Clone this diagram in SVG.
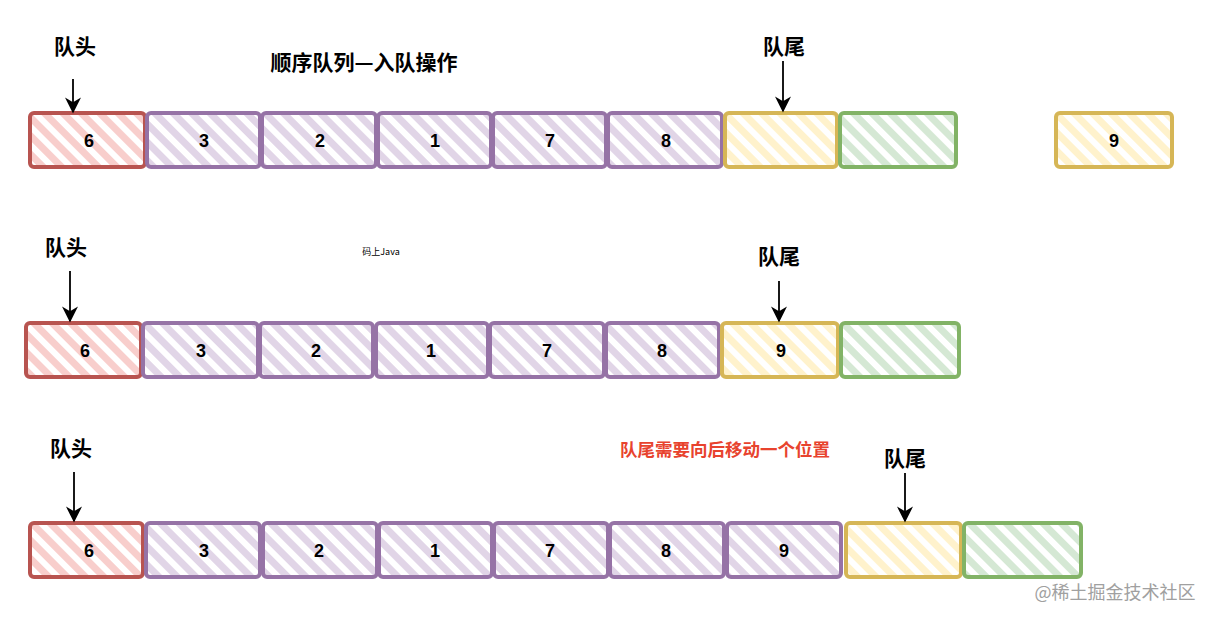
<svg xmlns="http://www.w3.org/2000/svg" width="1212" height="622" viewBox="0 0 1212 622">
<style>
.box{stroke-width:4;stroke-linejoin:round}
.r{stroke:#b85450;fill:url(#hr)}
.p{stroke:#9673a6;fill:url(#hp)}
.y{stroke:#d6b656;fill:url(#hy)}
.g{stroke:#82b366;fill:url(#hg)}
.num{font-family:"Liberation Sans",Arial,sans-serif;font-weight:bold;font-size:18px;fill:#000;text-anchor:middle}
.lbl{font-family:"Noto Sans CJK SC",sans-serif;font-weight:bold;font-size:21px;fill:#000;text-anchor:middle}
.arr{stroke:#000;stroke-width:1.8;fill:none;marker-end:url(#ah)}
</style>
<defs>
<pattern id="hr" width="13" height="13" patternUnits="userSpaceOnUse" patternTransform="rotate(-45)"><rect width="13" height="13" fill="#fff"/><rect width="7" height="13" fill="#f8cecc"/></pattern>
<pattern id="hp" width="13" height="13" patternUnits="userSpaceOnUse" patternTransform="rotate(-45)"><rect width="13" height="13" fill="#fff"/><rect width="7" height="13" fill="#e1d5e7"/></pattern>
<pattern id="hy" width="13" height="13" patternUnits="userSpaceOnUse" patternTransform="rotate(-45)"><rect width="13" height="13" fill="#fff"/><rect width="7" height="13" fill="#fff2cc"/></pattern>
<pattern id="hg" width="13" height="13" patternUnits="userSpaceOnUse" patternTransform="rotate(-45)"><rect width="13" height="13" fill="#fff"/><rect width="7" height="13" fill="#d5e8d4"/></pattern>
<marker id="ah" viewBox="0 0 10 10" refX="9" refY="5" markerWidth="9" markerHeight="9" markerUnits="strokeWidth" orient="auto"><path d="M0,0 L10,5 L0,10 L3,5 z" fill="#000"/></marker>
</defs>
<rect width="1212" height="622" fill="#fff"/>

<text x="364" y="70" font-family="'Noto Sans CJK SC',sans-serif" font-weight="bold" font-size="21" text-anchor="middle">顺序队列—入队操作</text>
<text x="381" y="255" font-family="'Noto Sans CJK SC',sans-serif" font-size="9" text-anchor="middle">码上Java</text>
<text x="725" y="456" font-family="'Noto Sans CJK SC',sans-serif" font-weight="bold" font-size="17.5" fill="#e8432e" text-anchor="middle">队尾需要向后移动一个位置</text>
<text x="1115" y="599" font-family="'Noto Sans CJK SC',sans-serif" font-size="18" fill="#a0a0a0" text-anchor="middle">@稀土掘金技术社区</text>

<!-- Row 1 -->
<g id="r1-n6"><rect class="box r" x="30" y="113" width="115" height="54" rx="4"/><text class="num" x="89" y="147">6</text></g>
<g id="r1-n3"><rect class="box p" x="147" y="113" width="113" height="54" rx="4"/><text class="num" x="204" y="147">3</text></g>
<g id="r1-n2"><rect class="box p" x="262" y="113" width="114" height="54" rx="4"/><text class="num" x="320" y="147">2</text></g>
<g id="r1-n1"><rect class="box p" x="378" y="113" width="113" height="54" rx="4"/><text class="num" x="435" y="147">1</text></g>
<g id="r1-n7"><rect class="box p" x="493" y="113" width="113" height="54" rx="4"/><text class="num" x="550" y="147">7</text></g>
<g id="r1-n8"><rect class="box p" x="608" y="113" width="114" height="54" rx="4"/><text class="num" x="666" y="147">8</text></g>
<g id="r1-tail"><rect class="box y" x="725" y="113" width="112" height="54" rx="4"/></g>
<g id="r1-empty"><rect class="box g" x="840" y="113" width="116" height="54" rx="4"/></g>
<g id="r1-n9"><rect class="box y" x="1056" y="113" width="116" height="54" rx="4"/><text class="num" x="1114" y="147">9</text></g>
<g id="r1-head-label"><text class="lbl" x="75" y="54">队头</text></g>
<g id="r1-tail-label"><text class="lbl" x="784" y="54">队尾</text></g>

<!-- Row 2 -->
<g id="r2-n6"><rect class="box r" x="26" y="323" width="115" height="54" rx="4"/><text class="num" x="85" y="357">6</text></g>
<g id="r2-n3"><rect class="box p" x="143" y="323" width="115" height="54" rx="4"/><text class="num" x="201" y="357">3</text></g>
<g id="r2-n2"><rect class="box p" x="260" y="323" width="113" height="54" rx="4"/><text class="num" x="316" y="357">2</text></g>
<g id="r2-n1"><rect class="box p" x="376" y="323" width="112" height="54" rx="4"/><text class="num" x="431" y="357">1</text></g>
<g id="r2-n7"><rect class="box p" x="490" y="323" width="114" height="54" rx="4"/><text class="num" x="547" y="357">7</text></g>
<g id="r2-n8"><rect class="box p" x="606" y="323" width="113" height="54" rx="4"/><text class="num" x="662" y="357">8</text></g>
<g id="r2-n9"><rect class="box y" x="722" y="323" width="116" height="54" rx="4"/><text class="num" x="781" y="357">9</text></g>
<g id="r2-empty"><rect class="box g" x="841" y="323" width="118" height="54" rx="4"/></g>
<g id="r2-head-label"><text class="lbl" x="66" y="255">队头</text></g>
<g id="r2-tail-label"><text class="lbl" x="779" y="264">队尾</text></g>

<!-- Row 3 -->
<g id="r3-n6"><rect class="box r" x="30" y="523" width="113" height="54" rx="4"/><text class="num" x="89" y="557">6</text></g>
<g id="r3-n3"><rect class="box p" x="146" y="523" width="114" height="54" rx="4"/><text class="num" x="204" y="557">3</text></g>
<g id="r3-n2"><rect class="box p" x="263" y="523" width="114" height="54" rx="4"/><text class="num" x="319" y="557">2</text></g>
<g id="r3-n1"><rect class="box p" x="379" y="523" width="113" height="54" rx="4"/><text class="num" x="435" y="557">1</text></g>
<g id="r3-n7"><rect class="box p" x="494" y="523" width="114" height="54" rx="4"/><text class="num" x="550" y="557">7</text></g>
<g id="r3-n8"><rect class="box p" x="610" y="523" width="114" height="54" rx="4"/><text class="num" x="666" y="557">8</text></g>
<g id="r3-n9"><rect class="box p" x="727" y="523" width="114" height="54" rx="4"/><text class="num" x="784" y="557">9</text></g>
<g id="r3-tail"><rect class="box y" x="846" y="523" width="115" height="54" rx="4"/></g>
<g id="r3-empty"><rect class="box g" x="964" y="523" width="117" height="54" rx="4"/></g>
<g id="r3-head-label"><text class="lbl" x="71" y="456">队头</text></g>
<g id="r3-tail-label"><text class="lbl" x="905" y="466">队尾</text></g>

<g id="connectors">
<line class="arr" x1="73" y1="79" x2="73" y2="112"/>
<line class="arr" x1="783" y1="61" x2="783" y2="111"/>
<line class="arr" x1="70" y1="271" x2="70" y2="321"/>
<line class="arr" x1="779" y1="281" x2="779" y2="321"/>
<line class="arr" x1="74" y1="472" x2="74" y2="521"/>
<line class="arr" x1="905" y1="473" x2="905" y2="521"/>
</g>
</svg>
